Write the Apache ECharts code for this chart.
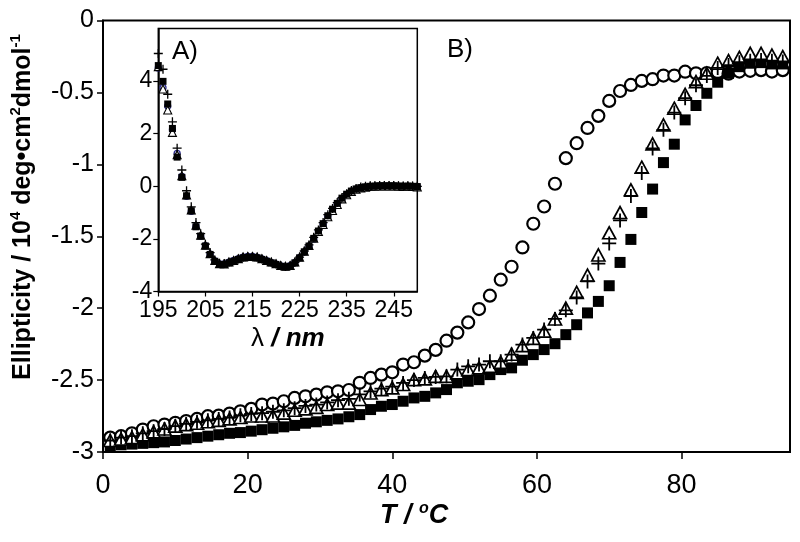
<!DOCTYPE html>
<html>
<head>
<meta charset="utf-8">
<script src="https://cdn.jsdelivr.net/npm/echarts@6/dist/echarts.min.js"></script>
<style>html,body{margin:0;padding:0;background:#fff}#c{width:800px;height:542px}</style>
</head>
<body>
<div id="c"></div>
<script>
// ---- Main panel B: thermal denaturation ----
const T = [1,2.5,4,5.5,7,8.5,10,11.5,13,14.5,16,17.5,19,20.5,22,23.5,25,26.5,28,29.5,31,32.5,34,35.5,37,38.5,40,41.5,43,44.5,46,47.5,49,50.5,52,53.5,55,56.5,58,59.5,61,62.5,64,65.5,67,68.5,70,71.5,73,74.5,76,77.5,79,80.5,82,83.5,85,86.5,88,89.5,91,92.5,94];
const circles = [-2.90,-2.89,-2.87,-2.844,-2.821,-2.809,-2.797,-2.785,-2.77,-2.751,
 -2.747,-2.733,-2.717,-2.700,-2.670,-2.663,-2.647,-2.624,-2.613,-2.601,
 -2.585,-2.578,-2.569,-2.519,-2.485,-2.462,-2.446,-2.392,-2.376,-2.330,
 -2.29,-2.226,-2.170,-2.099,-2.006,-1.913,-1.802,-1.712,-1.578,-1.413,
 -1.293,-1.135,-0.957,-0.853,-0.747,-0.663,-0.559,-0.490,-0.448,-0.420,
 -0.408,-0.383,-0.383,-0.356,-0.367,-0.365,-0.36,-0.37,-0.355,-0.35,
 -0.345,-0.355,-0.345];
const triangles = [-2.92,-2.91,-2.90,-2.88,-2.86,-2.84,-2.82,-2.81,-2.80,-2.79,
 -2.78,-2.77,-2.76,-2.75,-2.75,-2.75,-2.73,-2.71,-2.70,-2.69,
 -2.67,-2.66,-2.66,-2.635,-2.59,-2.566,-2.554,-2.531,-2.497,-2.492,
 -2.474,-2.474,-2.450,-2.427,-2.415,-2.404,-2.376,-2.32,-2.26,-2.21,
 -2.16,-2.075,-2.00,-1.89,-1.77,-1.63,-1.476,-1.335,-1.177,-1.020,
 -0.858,-0.726,-0.610,-0.513,-0.425,-0.367,-0.297,-0.279,-0.256,-0.228,
 -0.228,-0.240,-0.251];
const pluses = [-2.92,-2.90,-2.89,-2.87,-2.855,-2.84,-2.82,-2.805,-2.79,-2.78,
 -2.77,-2.76,-2.745,-2.735,-2.73,-2.72,-2.71,-2.695,-2.68,-2.67,
 -2.655,-2.64,-2.63,-2.60,-2.578,-2.56,-2.545,-2.52,-2.50,-2.485,
 -2.478,-2.474,-2.427,-2.404,-2.392,-2.369,-2.369,-2.323,-2.253,-2.207,
 -2.149,-2.075,-2.015,-1.925,-1.814,-1.69,-1.55,-1.39,-1.22,-1.06,
 -0.89,-0.76,-0.64,-0.54,-0.45,-0.385,-0.33,-0.31,-0.29,-0.28,
 -0.275,-0.28,-0.285];
const squares = [-2.955,-2.95,-2.945,-2.94,-2.935,-2.93,-2.92,-2.91,-2.90,-2.89,
 -2.88,-2.87,-2.865,-2.855,-2.845,-2.835,-2.825,-2.815,-2.80,-2.79,
 -2.78,-2.77,-2.755,-2.74,-2.705,-2.682,-2.67,-2.647,-2.624,-2.613,
 -2.589,-2.566,-2.519,-2.508,-2.497,-2.462,-2.427,-2.415,-2.362,-2.323,
 -2.288,-2.247,-2.184,-2.115,-2.033,-1.953,-1.844,-1.682,-1.522,-1.335,
 -1.172,-0.988,-0.860,-0.691,-0.591,-0.506,-0.429,-0.367,-0.321,-0.297,
 -0.293,-0.302,-0.302];
const xTicks = [0,20,40,60,80];

// ---- Inset panel A: CD spectra ----
const lambda = [195,196,197,198,199,200,201,202,203,204,205,206,207,208,209,210,211,212,213,214,215,216,217,218,219,220,221,222,223,224,225,226,227,228,229,230,231,232,233,234,235,236,237,238,239,240,241,242,243,244,245,246,247,248,249,250];
const cdSquares = [4.59,3.99,3.13,2.20,1.11,0.34,-0.36,-0.93,-1.54,-1.89,
 -2.27,-2.59,-2.85,-2.97,-2.97,-2.91,-2.85,-2.78,-2.72,-2.70,
 -2.70,-2.72,-2.78,-2.85,-2.91,-2.97,-3.04,-3.07,-3.04,-2.91,
 -2.72,-2.49,-2.27,-1.98,-1.70,-1.42,-1.12,-0.87,-0.65,-0.45,
 -0.30,-0.18,-0.10,-0.05,-0.02,0.0,0.01,0.02,0.02,0.02,
 0.02,0.01,0.0,0.01,0.0,-0.01];
const cdTriangles = [4.55,3.70,2.90,2.05,1.20,0.40,-0.33,-0.90,-1.48,-1.86,
 -2.24,-2.56,-2.82,-2.94,-2.95,-2.88,-2.82,-2.75,-2.69,-2.67,
 -2.67,-2.69,-2.75,-2.82,-2.88,-2.94,-3.01,-3.04,-3.01,-2.88,
 -2.70,-2.47,-2.25,-1.97,-1.72,-1.45,-1.16,-0.92,-0.69,-0.48,
 -0.32,-0.20,-0.11,-0.06,-0.03,-0.01,0.0,0.01,0.01,0.01,
 0.01,0.0,-0.01,0.0,-0.01,-0.02];
const cdPluses = [5.05,4.45,3.50,2.45,1.45,0.62,-0.17,-0.78,-1.38,-1.80,
 -2.20,-2.52,-2.80,-2.93,-2.94,-2.89,-2.83,-2.76,-2.70,-2.68,
 -2.68,-2.70,-2.76,-2.83,-2.89,-2.95,-3.02,-3.05,-3.02,-2.89,
 -2.69,-2.46,-2.23,-1.94,-1.66,-1.38,-1.08,-0.84,-0.62,-0.43,
 -0.28,-0.16,-0.08,-0.03,0.0,0.02,0.02,0.03,0.03,0.03,
 0.03,0.02,0.01,0.02,0.01,0.0];
const cdBlue = [4.50,3.75,3.05,2.15,1.25,0.38,-0.38,-0.95,-1.52,-1.90,
 -2.26,-2.58,-2.84,-2.95,-2.95,-2.88,-2.82,-2.75,-2.69,-2.67,
 -2.67,-2.70,-2.76,-2.83,-2.90,-2.96,-3.03,-3.06,-3.02,-2.90,
 -2.71,-2.50,-2.28,-2.00,-1.72,-1.44,-1.14,-0.89,-0.66,-0.46,
 -0.31,-0.19,-0.11,-0.06,-0.03,-0.01,0.0,0.01,0.01,0.01,
 0.01,0.0,0.0,0.0,-0.01,-0.01];
const insetXTicks = [195,205,215,225,235,245];
const insetYTicks = [-4,-2,0,2,4];

const FONT = 'Liberation Sans, Arial, Helvetica, sans-serif';
const PLUS = 'path://M5,0L5,10M0,5L10,5';
const pairs = (xs, ys) => xs.map((x, i) => [x, ys[i]]);

const chart = echarts.init(document.getElementById('c'), null, {renderer: 'canvas'});
chart.setOption({
  animation: false,
  backgroundColor: '#fff',
  grid: [
    {left: 103, top: 20.5, right: 10, bottom: 90, show: true, borderColor: '#000', borderWidth: 2, backgroundColor: 'transparent'},
    {left: 158.3, top: 28.5, width: 259, height: 263, show: true, borderColor: '#000', borderWidth: 1.5, backgroundColor: '#fff', z: 5}
  ],
  xAxis: [
    {type: 'value', gridIndex: 0, min: 0, max: 95,
     axisLine: {show: true, onZero: false, lineStyle: {color: '#000', width: 2}},
     axisTick: {show: true, inside: false, length: 7, lineStyle: {color: '#000', width: 1.5}, customValues: xTicks},
     axisLabel: {customValues: xTicks, fontSize: 27, color: '#000', fontFamily: FONT, margin: 20},
     splitLine: {show: false}},
    {type: 'value', gridIndex: 1, min: 195, max: 250, z: 6,
     axisLine: {show: true, onZero: false, lineStyle: {color: '#000', width: 1.5}},
     axisTick: {show: true, inside: false, length: 5, lineStyle: {color: '#000', width: 1.2}, customValues: insetXTicks},
     axisLabel: {customValues: insetXTicks, fontSize: 23, color: '#000', fontFamily: FONT, margin: 8},
     splitLine: {show: false}}
  ],
  yAxis: [
    {type: 'value', gridIndex: 0, min: -3, max: 0, interval: 0.5,
     axisLine: {show: true, onZero: false, lineStyle: {color: '#000', width: 2}},
     axisTick: {show: true, inside: false, length: 6, lineStyle: {color: '#000', width: 1.5}},
     axisLabel: {fontSize: 25, color: '#000', fontFamily: FONT, margin: 9},
     splitLine: {show: false}},
    {type: 'value', gridIndex: 1, min: -4, max: 6, interval: 2, z: 6,
     axisLine: {show: true, onZero: false, lineStyle: {color: '#000', width: 1.5}},
     axisTick: {show: true, inside: false, length: 5, lineStyle: {color: '#000', width: 1.2}, customValues: insetYTicks},
     axisLabel: {customValues: insetYTicks, fontSize: 23, color: '#000', fontFamily: FONT, margin: 6},
     splitLine: {show: false}}
  ],
  series: [
    {type: 'scatter', xAxisIndex: 0, yAxisIndex: 0, data: pairs(T, circles), symbol: 'circle', symbolSize: 12,
     itemStyle: {color: '#fff', borderColor: '#000', borderWidth: 2.2, opacity: 1}},
    {type: 'scatter', xAxisIndex: 0, yAxisIndex: 0, data: pairs(T, squares), symbol: 'rect', symbolSize: 11,
     itemStyle: {color: '#000', opacity: 1}},
    {type: 'scatter', xAxisIndex: 0, yAxisIndex: 0, data: pairs(T, triangles), symbol: 'triangle', symbolSize: [13, 12],
     itemStyle: {color: '#fff', borderColor: '#000', borderWidth: 1.7, opacity: 1}},
    {type: 'scatter', xAxisIndex: 0, yAxisIndex: 0, data: pairs(T, pluses), symbol: PLUS, symbolSize: 14,
     itemStyle: {color: 'none', borderColor: '#000', borderWidth: 1.8, opacity: 1}},
    {type: 'scatter', xAxisIndex: 1, yAxisIndex: 1, z: 7, data: pairs(lambda, cdBlue), symbol: 'circle', symbolSize: 6,
     itemStyle: {color: '#fff', borderColor: '#2b2b8c', borderWidth: 1.3, opacity: 1}},
    {type: 'scatter', xAxisIndex: 1, yAxisIndex: 1, z: 7, data: pairs(lambda, cdTriangles), symbol: 'triangle', symbolSize: 8,
     itemStyle: {color: '#fff', borderColor: '#000', borderWidth: 1.1, opacity: 1}},
    {type: 'scatter', xAxisIndex: 1, yAxisIndex: 1, z: 7, data: pairs(lambda, cdSquares), symbol: 'rect', symbolSize: 7,
     itemStyle: {color: '#000', opacity: 1}},
    {type: 'scatter', xAxisIndex: 1, yAxisIndex: 1, z: 7, data: pairs(lambda, cdPluses), symbol: PLUS, symbolSize: 9,
     itemStyle: {color: 'none', borderColor: '#000', borderWidth: 1.3, opacity: 1}}
  ],
  graphic: [
    {type: 'text', x: 23, y: 207, rotation: Math.PI / 2, z: 10,
     style: {text: '{b|Ellipticity / 10}{s|4}{b| deg•cm}{s|2}{b|dmol}{s|-1}', align: 'center', verticalAlign: 'middle',
       rich: {
         b: {fontSize: 25, fontWeight: 'bold', fontFamily: FONT, fill: '#000', lineHeight: 30},
         s: {fontSize: 15, fontWeight: 'bold', fontFamily: FONT, fill: '#000', lineHeight: 16, verticalAlign: 'top'}
       }}},
    {type: 'text', x: 380, y: 516, z: 10,
     style: {text: '{b|T / }{s|o}{b|C}', align: 'left', verticalAlign: 'middle',
       rich: {
         b: {fontSize: 27, fontWeight: 'bold', fontStyle: 'italic', fontFamily: FONT, fill: '#000', lineHeight: 30},
         s: {fontSize: 16, fontWeight: 'bold', fontStyle: 'italic', fontFamily: FONT, fill: '#000', lineHeight: 17, verticalAlign: 'top'}
       }}},
    {type: 'text', x: 287.8, y: 339, z: 10,
     style: {text: '{a|λ}{b| / nm}', align: 'center', verticalAlign: 'middle',
       rich: {
         a: {fontSize: 26, fontFamily: FONT, fill: '#000'},
         b: {fontSize: 26, fontWeight: 'bold', fontStyle: 'italic', fontFamily: FONT, fill: '#000'}
       }}},
    {type: 'text', x: 172, y: 52, z: 10,
     style: {text: 'A)', font: '26px ' + FONT, fill: '#000', align: 'left', verticalAlign: 'middle'}},
    {type: 'text', x: 447, y: 50, z: 10,
     style: {text: 'B)', font: '26px ' + FONT, fill: '#000', align: 'left', verticalAlign: 'middle'}}
  ]
});
</script>
</body>
</html>
